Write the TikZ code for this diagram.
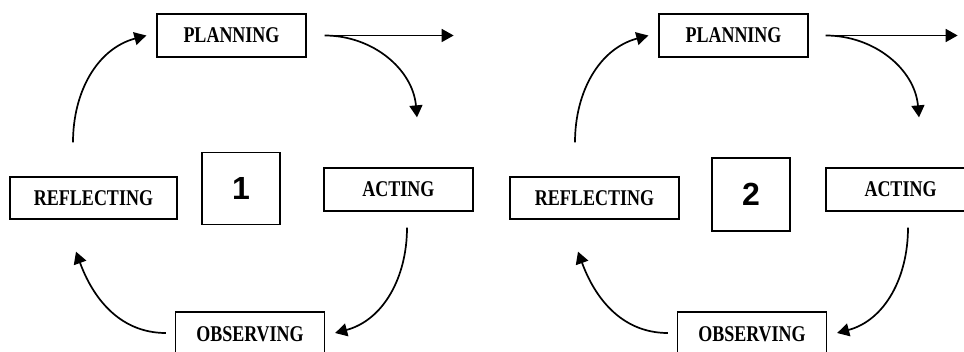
\documentclass[tikz,border=0pt]{standalone}
\usepackage{fontspec}
\setmainfont{Liberation Serif}
\newfontfamily\stagefont[FakeStretch=0.8]{Liberation Serif}
\newfontfamily\numfont{Liberation Sans}
\usetikzlibrary{arrows.meta}
\begin{document}
\begin{tikzpicture}[x=1pt,y=1pt,
  stagebox/.style={draw, line width=1.3pt, minimum width=149pt, minimum height=43pt, inner sep=0pt,
     text depth=0pt, text height=15pt, yshift=0pt,
     font=\fontsize{22.5}{24}\stagefont\bfseries},
  numbox/.style={draw, line width=1.3pt, minimum width=78pt, minimum height=72pt, inner sep=0pt,
     font=\fontsize{32}{34}\numfont\bfseries},
  flow/.style={line width=1.7pt, -{Triangle[length=12pt,width=13pt]}}]
\useasboundingbox (0,0) rectangle (964,351);
% ---- cycle 1 ----
\node[stagebox] (p1) at (231.5,315.5) {PLANNING};
\node[stagebox] (a1) at (398.5,161.5) {ACTING};
\node[stagebox] (o1) at (250,17.5) {OBSERVING};
\node[stagebox, minimum width=167pt, minimum height=42pt] (r1) at (93.5,153) {REFLECTING};
\node[numbox] (n1) at (241,162.5) {1};
\coordinate (e1) at ([xshift=147pt]p1.east);
\draw[flow] ([xshift=18pt]p1.east) -- (e1);
\draw[flow] ([xshift=18pt]p1.east) to[out=0,in=95] ([shift={(18.5,50)}]a1.north);
\draw[flow] ([shift={(8.5,-16)}]a1.south) to[out=-90,in=15] ([shift={(10,0.5)}]o1.east);
\draw[flow] ([shift={(-9,0.5)}]o1.west) to[out=180,in=-70] ([shift={(-17.5,-32)}]r1.south);
\draw[flow] ([shift={(-20.5,34)}]r1.north) to[out=90,in=195] ([xshift=-10pt]p1.west);
% ---- cycle 2 ----
\node[stagebox] (p2) at (733.5,315.5) {PLANNING};
\node[stagebox] (a2) at (900.5,161.5) {ACTING};
\node[stagebox] (o2) at (752,17.5) {OBSERVING};
\node[stagebox, minimum width=169pt, minimum height=42pt] (r2) at (594.5,153) {REFLECTING};
\node[numbox, minimum height=73pt] (n2) at (751,156.5) {2};
\coordinate (e2) at ([xshift=149pt]p2.east);
\draw[flow] ([xshift=17pt]p2.east) -- (e2);
\draw[flow] ([xshift=17pt]p2.east) to[out=0,in=95] ([shift={(18.5,50)}]a2.north);
\draw[flow] ([shift={(7.5,-16)}]a2.south) to[out=-90,in=15] ([shift={(10,0.5)}]o2.east);
\draw[flow] ([shift={(-9,0.5)}]o2.west) to[out=180,in=-70] ([shift={(-16.5,-32)}]r2.south);
\draw[flow] ([shift={(-19.5,34)}]r2.north) to[out=90,in=195] ([xshift=-10pt]p2.west);
\end{tikzpicture}
\end{document}
